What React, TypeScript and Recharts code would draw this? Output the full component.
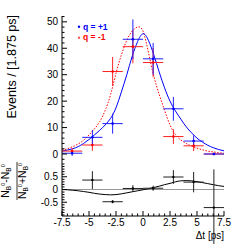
import { ComposedChart, Scatter, Line, XAxis, YAxis, ErrorBar, ReferenceLine } from "recharts";

const FONT = "'Liberation Sans', Arial, Helvetica, sans-serif";

// binned Δt values (bin width 1.875 ps)
const binCenters = [-6.5625, -4.6875, -2.8125, -0.9375, 0.9375, 2.8125, 4.6875, 6.5625];
const binHalf = 0.9375;
const blueCounts = [0.3, 6.3, 11.5, 43.4, 36.0, 17.1, 4.9, 0];
const blueErrs = [1.0, 2.8, 3.8, 7.5, 6.0, 4.5, 2.2, 0.4];
const redCounts = [1.1, 3.4, 31.2, 40.6, 34.6, 6.6, 3.1, 0];
const redErrs = [1.2, 2.2, 5.5, 6.3, 5.5, 2.8, 2.0, 0.4];

// asymmetry panel
const asymX = [-4.6875, -2.8125, -0.9375, 0.9375, 2.8125, 4.6875, 6.5625];
const asymY = [0.37, -0.48, 0.04, 0.05, 0.49, 0.29, -0.71];
const asymErr = [0.35, 0.06, 0.13, 0.1, 0.27, 0.4, 1.5];

// fit curves
const curveX = [-7.5, -7, -6.5, -6, -5.5, -5, -4.5, -4, -3.5, -3, -2.5, -2, -1.5, -1, -0.5, 0, 0.5, 1, 1.5, 2, 2.5, 3, 3.5, 4, 4.5, 5, 5.5, 6, 6.5, 7, 7.5];
const blueFit = [1.1, 1.5, 2.0, 2.8, 4.0, 5.5, 7.2, 9.0, 11.0, 13.5, 17.5, 23.5, 30, 37, 42.5, 45.5, 43, 37.5, 31, 25, 20, 16.3, 13.2, 10.3, 8.0, 6.0, 4.5, 3.3, 2.4, 1.7, 1.2];
const redFit = [1.5, 2.0, 2.8, 3.8, 5.2, 7.2, 9.5, 12.3, 16.5, 22.5, 30.5, 37.5, 43, 46.5, 48.0, 46.5, 38.5, 29.5, 22.5, 16.5, 11, 7.4, 5.3, 4.0, 3.0, 2.2, 1.6, 1.1, 0.8, 0.5, 0.3];
const asymFit = [0.0, -0.01, -0.03, -0.05, -0.08, -0.11, -0.15, -0.18, -0.2, -0.21, -0.2, -0.17, -0.13, -0.09, -0.05, -0.01, 0.03, 0.08, 0.13, 0.19, 0.24, 0.3, 0.34, 0.35, 0.34, 0.31, 0.27, 0.23, 0.19, 0.15, 0.12];

const xMajor = [-7.5, -5, -2.5, 0, 2.5, 5, 7.5];
const yTopMajor = [0, 10, 20, 30, 40, 50];
const yBotMajor = [-0.5, 0, 0.5];

function range(a: number, b: number, step: number) {
  const out: number[] = [];
  for (let v = a; v <= b + 1e-9; v += step) out.push(Math.round(v * 1000) / 1000);
  return out;
}
const xTicks = range(-7.5, 7.5, 0.5);
const yTopTicks = range(-2, 52, 2);
const yBotTicks = range(-1, 1, 0.1);

const bluePts = binCenters.map((x, i) => ({ x, y: blueCounts[i], ex: binHalf, ey: blueErrs[i] }));
const redPts = binCenters.map((x, i) => ({ x, y: redCounts[i], ex: binHalf, ey: redErrs[i] }));
const asymPts = asymX.map((x, i) => ({ x, y: asymY[i], ex: binHalf, ey: asymErr[i] }));
const blueLine = curveX.map((x, i) => ({ x, y: blueFit[i] }));
const redLine = curveX.map((x, i) => ({ x, y: redFit[i] }));
const asymLine = curveX.map((x, i) => ({ x, y: asymFit[i] }));

type Side = "left" | "right" | "top" | "bottom";

function makeTick(side: Side, majors: number[], major: number, minor: number, label = false) {
  return (props: any) => {
    const { x, y, payload } = props;
    const v = payload.value;
    const big = majors.some((m) => Math.abs(m - v) < 1e-6);
    const len = big ? major : minor;
    let x2 = x;
    let y2 = y;
    if (side === "left") x2 = x + len;
    else if (side === "right") x2 = x - len;
    else if (side === "top") y2 = y + len;
    else y2 = y - len;
    return (
      <g>
        <line x1={x} y1={y} x2={x2} y2={y2} stroke="#000" strokeWidth={1} />
        {label && big && side === "left" ? (
          <text x={x - 4} y={y + 3.5} textAnchor="end" fontSize={10} fontFamily={FONT} fill="#000">
            {v}
          </text>
        ) : null}
        {label && big && side === "bottom" ? (
          <text x={x} y={y + 10} textAnchor="middle" fontSize={10} fontFamily={FONT} fill="#000">
            {v}
          </text>
        ) : null}
      </g>
    );
  };
}

const dot = (color: string, r = 1.3) => (p: any) => <circle cx={p.cx} cy={p.cy} r={r} fill={color} />;

function TopPanel() {
  return (
    <ComposedChart width={249} height={163} margin={{ top: 16, right: 25, bottom: 0, left: 0 }}>
      <XAxis xAxisId="b" type="number" dataKey="x" domain={[-7.5, 7.5]} ticks={xTicks} interval={0} height={0}
        tickSize={0} tickMargin={0} tick={makeTick("bottom", xMajor, 5, 2.5)} axisLine={{ stroke: "#000" }} allowDataOverflow />
      <XAxis xAxisId="t" orientation="top" type="number" dataKey="x" domain={[-7.5, 7.5]} ticks={xTicks} interval={0} height={0}
        tickSize={0} tickMargin={0} tick={makeTick("top", xMajor, 5, 2.5)} axisLine={{ stroke: "#000" }} allowDataOverflow />
      <YAxis yAxisId="l" type="number" dataKey="y" domain={[-3.4, 52.2]} ticks={yTopTicks} interval={0} width={62}
        tickSize={0} tickMargin={0} tick={makeTick("left", yTopMajor, 5, 2.5, true)} axisLine={{ stroke: "#000" }} allowDataOverflow />
      <YAxis yAxisId="r" orientation="right" type="number" dataKey="y" domain={[-3.4, 52.2]} ticks={yTopTicks} interval={0} width={0}
        tickSize={0} tickMargin={0} tick={makeTick("right", yTopMajor, 5, 2.5)} axisLine={{ stroke: "#000" }} allowDataOverflow />
      <Line xAxisId="b" yAxisId="l" data={redLine} dataKey="y" type="natural" stroke="#ff0000" strokeWidth={1}
        strokeDasharray="1.5 1.5" dot={false} isAnimationActive={false} />
      <Line xAxisId="b" yAxisId="l" data={blueLine} dataKey="y" type="natural" stroke="#0000ff" strokeWidth={1}
        dot={false} isAnimationActive={false} />
      <Scatter xAxisId="b" yAxisId="l" data={redPts} dataKey="y" shape={dot("#ff0000")} isAnimationActive={false}>
        <ErrorBar dataKey="ex" direction="x" width={0} stroke="#ff2020" strokeWidth={1} />
        <ErrorBar dataKey="ey" direction="y" width={0} stroke="#ff2020" strokeWidth={1} />
      </Scatter>
      <Scatter xAxisId="b" yAxisId="l" data={bluePts} dataKey="y" shape={dot("#0000ff")} isAnimationActive={false}>
        <ErrorBar dataKey="ex" direction="x" width={0} stroke="#2020ff" strokeWidth={1} />
        <ErrorBar dataKey="ey" direction="y" width={0} stroke="#2020ff" strokeWidth={1} />
      </Scatter>
    </ComposedChart>
  );
}

function BottomPanel() {
  return (
    <ComposedChart width={249} height={81} margin={{ top: 0, right: 25, bottom: 0, left: 0 }}>
      <XAxis xAxisId="b" type="number" dataKey="x" domain={[-7.5, 7.5]} ticks={xTicks} interval={0} height={28}
        tickSize={0} tickMargin={0} tick={makeTick("bottom", xMajor, 5, 2.5, true)} axisLine={{ stroke: "#000" }} allowDataOverflow />
      <XAxis xAxisId="t" orientation="top" type="number" dataKey="x" domain={[-7.5, 7.5]} ticks={xTicks} interval={0} height={0}
        tickSize={0} tickMargin={0} tick={makeTick("top", xMajor, 5, 2.5)} axisLine={{ stroke: "#000" }} allowDataOverflow />
      <YAxis yAxisId="l" type="number" dataKey="y" domain={[-1.04, 1.04]} ticks={yBotTicks} interval={0} width={62}
        tickSize={0} tickMargin={0} tick={makeTick("left", yBotMajor, 5, 2.5, true)} axisLine={{ stroke: "#000" }} allowDataOverflow />
      <YAxis yAxisId="r" orientation="right" type="number" dataKey="y" domain={[-1.04, 1.04]} ticks={yBotTicks} interval={0} width={0}
        tickSize={0} tickMargin={0} tick={makeTick("right", yBotMajor, 5, 2.5)} axisLine={{ stroke: "#000" }} allowDataOverflow />
      <ReferenceLine xAxisId="b" yAxisId="l" y={0} stroke="#999" strokeWidth={1} />
      <Line xAxisId="b" yAxisId="l" data={asymLine} dataKey="y" type="natural" stroke="#000" strokeWidth={1}
        dot={false} isAnimationActive={false} />
      <Scatter xAxisId="b" yAxisId="l" data={asymPts} dataKey="y" shape={dot("#000", 1.2)} isAnimationActive={false}>
        <ErrorBar dataKey="ex" direction="x" width={0} stroke="#222" strokeWidth={1} />
        <ErrorBar dataKey="ey" direction="y" width={0} stroke="#222" strokeWidth={1} />
      </Scatter>
    </ComposedChart>
  );
}

function Overlay() {
  return (
    <svg width={249} height={244} style={{ position: "absolute", left: 0, top: 0, pointerEvents: "none" }}>
      <text transform="translate(16,15) rotate(-90)" textAnchor="end" fontSize={12.5} fontFamily={FONT} fill="#000">
        Events / [1.875 ps]
      </text>
      <circle cx={79} cy={26.7} r={1.2} fill="#0000ff" />
      <text x={83} y={29.6} fontSize={8.5} fontWeight="bold" fontFamily={FONT} fill="#0000ff">q = +1</text>
      <path d="M77.7,38.5 L80.3,38.5 L79,36.2 Z" fill="#ff0000" />
      <text x={83} y={40.2} fontSize={8.5} fontWeight="bold" fontFamily={FONT} fill="#ff0000">q = -1</text>
      <g transform="translate(17,181) rotate(-90)" fontFamily={FONT} fill="#000">
        <text x={0} y={-8} textAnchor="middle" fontSize={10.5}>
          N<tspan fontSize={6.5} dy={2}>B</tspan><tspan fontSize={5.5} dy={-6}>0</tspan>
          <tspan fontSize={10.5} dy={4}>-N</tspan><tspan fontSize={6.5} dy={2}>B</tspan><tspan fontSize={5.5} dy={-6}>0</tspan>
        </text>
        <line x1={-19} y1={0} x2={19} y2={0} stroke="#000" strokeWidth={0.8} />
        <text x={0} y={9} textAnchor="middle" fontSize={10.5}>
          N<tspan fontSize={6.5} dy={2}>B</tspan><tspan fontSize={5.5} dy={-6}>0</tspan>
          <tspan fontSize={10.5} dy={4}>+N</tspan><tspan fontSize={6.5} dy={2}>B</tspan><tspan fontSize={5.5} dy={-6}>0</tspan>
        </text>
      </g>
      <text x={224} y={239} textAnchor="end" fontSize={10} fontFamily={FONT} fill="#000">Δt [ps]</text>
    </svg>
  );
}

export default function App() {
  return (
    <div style={{ position: "absolute", left: 0, top: 0, width: 249, height: 244, background: "#fff" }}>
      <div style={{ position: "absolute", left: 0, top: 0 }}>
        <TopPanel />
      </div>
      <div style={{ position: "absolute", left: 0, top: 163 }}>
        <BottomPanel />
      </div>
      <Overlay />
    </div>
  );
}
